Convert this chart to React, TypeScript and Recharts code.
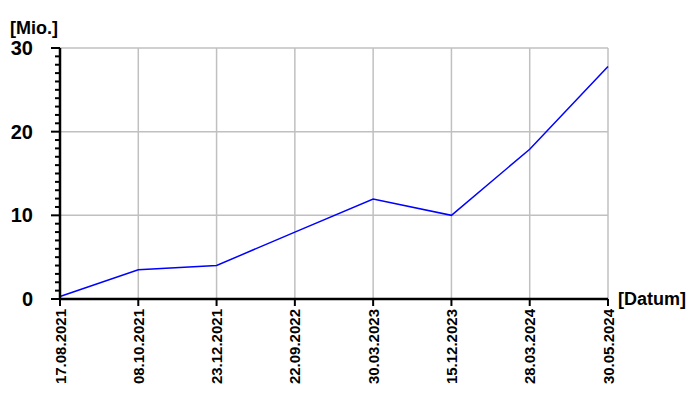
import React from "react";
import { LineChart, Line, XAxis, YAxis, CartesianGrid } from "recharts";

const dates = ["17.08.2021", "08.10.2021", "23.12.2021", "22.09.2022", "30.03.2023", "15.12.2023", "28.03.2024", "30.05.2024"];
const values = [0.3, 3.5, 4.0, 8.0, 11.95, 10.0, 17.9, 27.8];
const yMajorTicks = [0, 10, 20, 30];
const yMinorTicks = Array.from({ length: 31 }, (_, i) => i);

const data = dates.map((d, i) => ({ date: d, value: values[i] }));

const FONT = "'Liberation Sans', Arial, sans-serif";

const YTick = (props: any) => {
  const { x, y, payload } = props;
  const v = payload.value;
  const major = yMajorTicks.includes(v);
  return (
    <g>
      <line x1={x - (major ? 9 : 5)} x2={x} y1={y} y2={y} stroke="#000" strokeWidth={2} />
      {major && (
        <text x={x - 27} y={y} textAnchor="end" dominantBaseline="central" fontFamily={FONT} fontWeight="bold" fontSize={20} fill="#000">
          {v}
        </text>
      )}
    </g>
  );
};

const XTick = (props: any) => {
  const { x, y, payload } = props;
  return (
    <g>
      <line x1={x} x2={x} y1={y} y2={y + 7} stroke="#000" strokeWidth={2} />
      <text
        x={x + 5.5}
        y={y + 10}
        transform={`rotate(-90, ${x + 5.5}, ${y + 10})`}
        textAnchor="end"
        fontFamily={FONT}
        fontWeight="bold"
        fontSize={15}
        fill="#000"
      >
        {payload.value}
      </text>
    </g>
  );
};

export default function App() {
  return (
    <div style={{ position: "absolute", left: 0, top: 0, width: 700, height: 400, background: "#fff" }}>
      <LineChart width={700} height={400} data={data} margin={{ top: 48, right: 92, bottom: 0, left: 0 }}>
        <CartesianGrid stroke="#c0c0c0" strokeWidth={1.5} horizontalValues={[10, 20, 30]} />
        <XAxis
          dataKey="date"
          height={101}
          interval={0}
          tickSize={0}
          tickMargin={0}
          tick={<XTick />}
          axisLine={{ stroke: "#000", strokeWidth: 2.5 }}
          tickLine={false}
        />
        <YAxis
          width={60}
          domain={[0, 30]}
          ticks={yMinorTicks}
          interval={0}
          tickSize={0}
          tickMargin={0}
          tick={<YTick />}
          axisLine={{ stroke: "#000", strokeWidth: 2.5 }}
          tickLine={false}
        />
        <Line type="linear" dataKey="value" stroke="#0000ff" strokeWidth={1.5} dot={false} isAnimationActive={false} />
      </LineChart>
      <div style={{ position: "absolute", left: 10, top: 17, fontFamily: FONT, fontWeight: "bold", fontSize: 18, lineHeight: "22px", color: "#000" }}>
        [Mio.]
      </div>
      <div style={{ position: "absolute", left: 618, top: 288, fontFamily: FONT, fontWeight: "bold", fontSize: 18, lineHeight: "22px", color: "#000" }}>
        [Datum]
      </div>
    </div>
  );
}
